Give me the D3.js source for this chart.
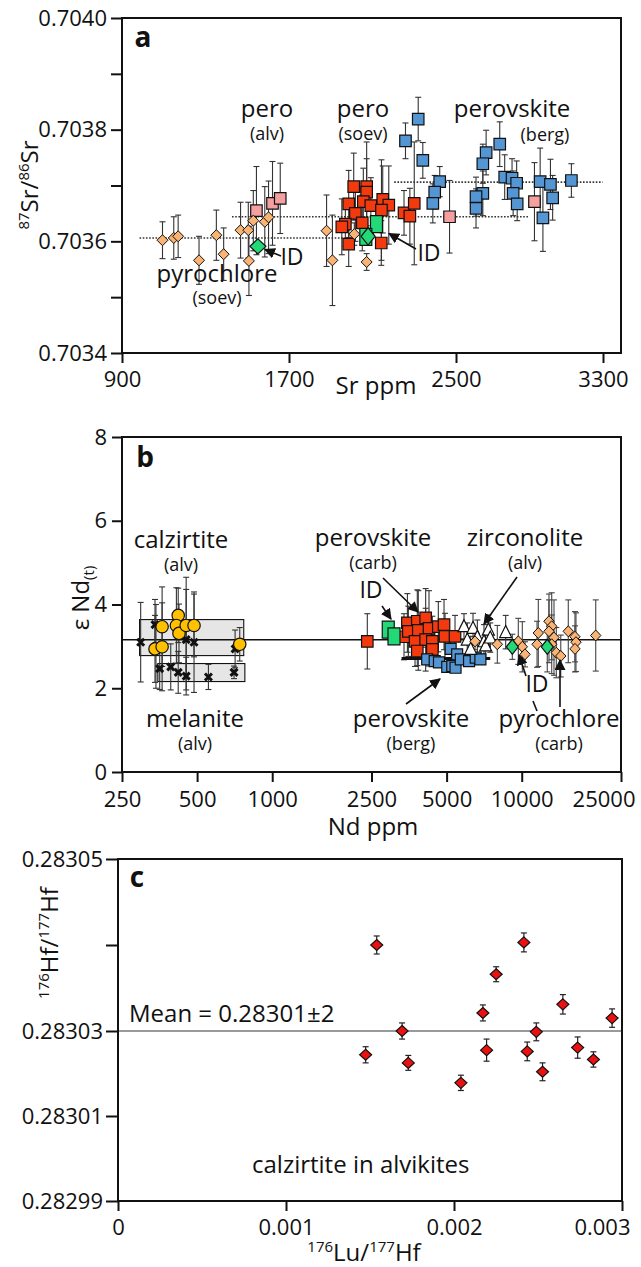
<!DOCTYPE html>
<html><head><meta charset="utf-8">
<script src="https://cdn.jsdelivr.net/npm/d3@7"></script>
<style>
body{margin:0;background:#fff}
svg{display:block}
text{font-family:'Open Sans',sans-serif;fill:#111}
</style></head>
<body><svg id="chart" width="641" height="1267"></svg>
<script>
// ---------------- Panel a data: [Sr ppm, 87Sr/86Sr, 2σ] ----------------
const aTicksX = [900, 1700, 2500, 3300];
const aTicksY = [0.7034, 0.7035, 0.7036, 0.7037, 0.7038, 0.7039, 0.7040];
const aLabelsY = ["0.7034", "", "0.7036", "", "0.7038", "", "0.7040"];
const pyroSoev = [
  [1094,0.703602,0.000033],[1148,0.703606,0.000038],[1169,0.703609,0.000038],
  [1269,0.703566,0.000043],[1352,0.703611,0.000045],[1387,0.703577,0.000047],
  [1468,0.703620,0.000050],[1505,0.703620,0.000050],[1508,0.703565,0.000062],
  [1529,0.703637,0.000054],[1584,0.703635,0.000063],[1602,0.703643,0.000065],
  [1880,0.703619,0.000064],[1908,0.703566,0.000081],[2013,0.703613,0.000020],
  [2072,0.703563,0.000015]
];
const peroAlv = [
  [1544,0.703655,0.000079],[1621,0.703668,0.000075],[1658,0.703677,0.000063],
  [2469,0.703644,0.000065],[2927,0.703671,0.000070]
];
const peroSoev = [
  [2010,0.703698,0.00006],[2072,0.703698,0.00008],[2072,0.703688,0.00006],
  [1986,0.703667,0.00006],[2056,0.703671,0.00006],[2092,0.703664,0.00005],
  [2149,0.703675,0.00006],[2178,0.703665,0.00007],[2018,0.703650,0.00005],
  [1970,0.703631,0.00004],[1953,0.703626,0.00005],[2051,0.703633,0.00005],
  [1986,0.703595,0.00004],[2142,0.703597,0.00004],[2143,0.703656,0.00009],
  [2251,0.703651,0.00004],[2279,0.703645,0.00005],[2300,0.703668,0.00011]
];
const peroBerg = [
  [2258,0.703780,0.000032],[2319,0.703819,0.000039],[2341,0.703745,0.000032],
  [2422,0.703707,0.000027],[2398,0.703688,0.000030],[2389,0.703668,0.000035],
  [2664,0.703759,0.000040],[2646,0.703739,0.000035],[2738,0.703774,0.000040],
  [2646,0.703686,0.000040],[2609,0.703680,0.000035],[2609,0.703659,0.000035],
  [2765,0.703715,0.000040],[2805,0.703713,0.000035],[2830,0.703704,0.000040],
  [2811,0.703686,0.000040],[2833,0.703667,0.000030],[2958,0.703707,0.000060],
  [3014,0.703702,0.000045],[3026,0.703678,0.000040],[2973,0.703642,0.000060],
  [3128,0.703709,0.000030]
];
const idSquaresA = [[2119,0.703631],[2068,0.703608]];
const idDiamondsA = [[1551,0.703591],[2079,0.703609]];
const meanLinesA = [[984,1970,0.703606],[1427,2898,0.703644],[2204,3298,0.703706]];

// ---------------- Panel b data: [Nd ppm, εNd(t), 2σ] ----------------
const bTicksX = [250, 500, 1000, 2500, 5000, 10000, 25000];
const bTicksY = [0, 2, 4, 6, 8];
const bMean = 3.16;
const calzirtite = [
  [339,2.94,0.8],[362,2.99,1.05],[362,3.47,0.95],[420,3.74,0.65],[413,3.50,0.9],
  [423,3.31,0.7],[452,3.50,1.15],[486,3.50,0.75],[741,3.05,0.4]
];
const melanite = [
  [297,3.10,0.95],[339,3.52,0.6],[342,3.00,1.0],[354,2.47,0.5],[392,2.51,0.55],
  [420,2.38,0.5],[452,2.29,0.45],[452,3.16,1.2],[486,3.10,1.2],[555,2.27,0.3],
  [703,2.38,0.15],[710,2.94,0.45]
];
const calzBox = [294, 769, 2.78, 3.64];
const melBox = [348, 777, 2.16, 2.59];
const peroCarb = [
  [2405,3.12,0.66],[3375,3.23,0.55],[3482,3.56,0.7],[3815,3.60,0.75],[4121,3.68,0.7],
  [3513,3.36,0.6],[3850,3.38,0.95],[4250,3.43,0.9],[4632,3.47,0.6],[4882,3.52,0.6],
  [3736,3.12,0.6],[4121,3.16,0.75],[4383,3.12,0.6],[4927,3.24,0.55],[5404,3.24,0.5],
  [3815,2.89,0.35],[4383,2.93,0.35]
];
const peroCarbID = [[2918,3.40],[3077,3.24]];
const peroBergB = [
  [4180,2.69,0.15],[4480,2.65,0.15],[4660,2.62,0.15],[5030,2.51,0.15],[5270,2.53,0.15],
  [5190,2.94,0.15],[5430,2.49,0.15],[5510,2.81,0.15],[5700,2.69,0.15],[6150,2.65,0.15],
  [6540,2.73,0.15],[6830,2.69,0.15]
];
const bergLine = [3300, 7480, 2.71];
const zirconolite = [
  [5870,3.48,0.3],[6380,3.44,0.35],[7350,3.40,0.35],[8625,3.34,0.4],[6050,3.16,0.4],
  [6640,3.23,0.4],[7060,3.12,0.4],[6245,2.94,0.3],[7170,3.02,0.3],[7480,3.21,0.35]
];
const pyroCarb = [
  [6500,3.12,0.2],[7985,3.05,0.45],[9690,3.12,0.55],[10055,2.99,0.6],[10310,2.81,0.3],
  [11655,3.32,0.8],[11520,3.05,0.55],[12860,3.60,0.65],[13190,3.48,0.8],[12860,3.36,0.75],
  [13470,3.21,0.9],[13190,3.05,0.7],[13760,2.85,0.6],[14340,2.77,0.5],[15370,3.36,0.75],
  [16350,3.23,0.6],[16500,3.10,0.7],[16350,2.94,0.55],[19800,3.26,0.85]
];
const pyroCarbID = [[9170,2.99,0.3],[12660,2.99,0.6]];

// ---------------- Panel c data ----------------
const cTicksX = [0, 0.001, 0.002, 0.003];
const cLabelsX = ["0", "0.001", "0.002", "0.003"];
const cTicksY = [0.28299, 0.28301, 0.28303, 0.28304, 0.28305];
const cLabelsY = ["0.28299", "0.28301", "0.28303", "", "0.28305"];
const luHf = [0.001474,0.001540,0.001691,0.001728,0.002041,0.002172,0.002194,0.002251,
              0.002416,0.002436,0.002490,0.002527,0.002648,0.002736,0.002830,0.002941];
const hfHf = [0.2830244,0.2830400,0.2830300,0.2830225,0.2830178,0.2830321,0.2830255,0.2830366,
              0.2830403,0.2830252,0.2830298,0.2830204,0.2830331,0.2830261,0.2830233,0.2830315];
const hfErr = [1.9e-6,1.05e-6,1.9e-6,1.75e-6,1.8e-6,0.93e-6,2.6e-6,0.87e-6,
               1.1e-6,2.2e-6,2.1e-6,2.1e-6,1.13e-6,2.5e-6,1.8e-6,1.07e-6];
const cMean = 0.28303;

// ---------------- colours ----------------
const C = {orange:"#F9B373", red:"#F23A0E", blue:"#5495D3", pink:"#F5A0A0",
           green:"#22D877", yellow:"#FFC000", redC:"#EC1111", box:"#E6E6E6"};

const svg = d3.select("#chart");

// ---------- helpers ----------
const sq = s => `M${-s/2},${-s/2}h${s}v${s}h${-s}Z`;
const rc = (w,h) => `M${-w/2},${-h/2}h${w}v${h}h${-w}Z`;
const dia = (w,h) => `M0,${-h}L${w},0L0,${h}L${-w},0Z`;
const tri = s => `M0,${-s*0.55}L${s/2},${s*0.45}L${-s/2},${s*0.45}Z`;
const cross = s => `M${-s/2},${-s/2}L${s/2},${s/2}M${s/2},${-s/2}L${-s/2},${s/2}`;

function errBars(g, data, x, y, col, cap=6, w=1.1) {
  const gg = g.append("g").attr("stroke", col).attr("stroke-width", w).attr("fill","none");
  data.forEach(d => {
    const px = x(d[0]), py = y(d[1]);
    const dy = Math.abs(y(d[1]-d[2]) - py);
    gg.append("line").attr("x1",px).attr("x2",px).attr("y1",py-dy).attr("y2",py+dy);
    gg.append("line").attr("x1",px-cap/2).attr("x2",px+cap/2).attr("y1",py-dy).attr("y2",py-dy);
    gg.append("line").attr("x1",px-cap/2).attr("x2",px+cap/2).attr("y1",py+dy).attr("y2",py+dy);
  });
}
function marks(g, data, x, y, path, fill, sw=1.2) {
  g.append("g").selectAll("path").data(data).join("path")
    .attr("transform", d => `translate(${x(d[0])},${y(d[1])})`)
    .attr("d", path).attr("fill", fill).attr("stroke","#111").attr("stroke-width", sw);
}
function label(g, x, y, txt, size, anchor="middle", weight="normal") {
  return g.append("text").attr("x",x).attr("y",y).attr("text-anchor",anchor)
    .attr("font-size",size).attr("font-weight",weight).text(txt);
}
function arrow(g, x1,y1,x2,y2, head=true) {
  g.append("line").attr("x1",x1).attr("y1",y1).attr("x2",x2).attr("y2",y2)
    .attr("stroke","#111").attr("stroke-width",1.6)
    .attr("marker-end", head ? "url(#ah)" : null);
}
svg.append("defs").append("marker").attr("id","ah").attr("viewBox","0 0 10 10")
  .attr("refX",9).attr("refY",5)
  .attr("orient","auto-start-reverse").attr("markerUnits","userSpaceOnUse")
  .attr("markerWidth",11).attr("markerHeight",11)
  .append("path").attr("d","M0,0L10,5L0,10Z").attr("fill","#111");

function frame(g, x0,y0,x1,y1) {
  g.append("rect").attr("x",x0).attr("y",y0).attr("width",x1-x0).attr("height",y1-y0)
    .attr("fill","none").attr("stroke","#111").attr("stroke-width",2);
}
function styleAxis(ax) {
  ax.select(".domain").remove();
  ax.selectAll(".tick line").attr("stroke","#111").attr("stroke-width",2);
  ax.selectAll(".tick text").attr("font-size",22).attr("fill","#111")
    .attr("font-family","'Open Sans',sans-serif");
}
// keep the last bottom label inside the page, as the reference does
function endLabel(ax, dx) {
  ax.selectAll(".tick").filter((d,i,n)=>i===n.length-1).select("text")
    .attr("text-anchor","end").attr("x", dx);
}
function supText(g, x, y, parts, rotate) {
  const t = g.append("text").attr("text-anchor","middle").attr("font-size",24)
    .attr("transform", rotate ? `translate(${x},${y}) rotate(-90)` : `translate(${x},${y})`);
  parts.forEach(p => {
    const ts = t.append("tspan").text(p[0]);
    if (p[1] === "sup") ts.attr("font-size",15).attr("dy",-9);
    else if (p[1] === "sub") ts.attr("font-size",15).attr("dy",5);
    else if (p[1] === "back") ts.attr("dy",9);
  });
  return t;
}

// =============== Panel a ===============
{
  const L=122, R=621, T=18, B=353;
  const x = d3.scaleLinear().domain([900,2500,3300]).range([L,456,603]);
  const y = d3.scaleLinear().domain([0.7034,0.7040]).range([B,T]);
  const g = svg.append("g");
  meanLinesA.forEach(m => g.append("line").attr("x1",x(m[0])).attr("x2",x(m[1]))
    .attr("y1",y(m[2])).attr("y2",y(m[2])).attr("stroke","#333").attr("stroke-width",1.6)
    .attr("stroke-dasharray","1.6,1.6"));
  errBars(g, pyroSoev, x, y, "#333");
  errBars(g, peroAlv, x, y, "#333");
  errBars(g, peroSoev, x, y, "#333");
  errBars(g, peroBerg, x, y, "#333");
  marks(g, peroSoev, x, y, sq(11.5), C.red);
  marks(g, peroBerg, x, y, sq(11.5), C.blue);
  marks(g, peroAlv, x, y, sq(11.5), C.pink);
  marks(g, pyroSoev, x, y, dia(5.5,5.5), C.orange, 1);
  marks(g, idSquaresA, x, y, rc(12,17), C.green);
  marks(g, [idDiamondsA[0]], x, y, dia(8,7.5), C.green);
  marks(g, [idDiamondsA[1]], x, y, dia(7,8.8), C.green);
  frame(g, L,T,R,B);
  const ay = g.append("g").attr("transform",`translate(${L},0)`)
    .call(d3.axisLeft(y).tickValues(aTicksY).tickSize(11).tickPadding(4)
      .tickFormat((d,i)=>aLabelsY[i]));
  styleAxis(ay);
  const ax = g.append("g").attr("transform",`translate(0,${B})`)
    .call(d3.axisBottom(x).tickValues(aTicksX).tickSize(10).tickPadding(8).tickFormat(d3.format("d")));
  styleAxis(ax);
  label(g, 143, 47, "a", 28, "middle", "bold");
  label(g, 267, 117, "pero", 24); label(g, 267, 140, "(alv)", 18);
  label(g, 363, 117, "pero", 24); label(g, 363, 140, "(soev)", 18);
  label(g, 512, 117, "perovskite", 24); label(g, 545, 141, "(berg)", 18);
  label(g, 217, 282, "pyrochlore", 24); label(g, 217, 304, "(soev)", 18);
  label(g, 292, 265, "ID", 23); label(g, 429, 261, "ID", 23);
  arrow(g, 281, 256, 265, 249.5);
  arrow(g, 416, 249, 389, 233.5);
  label(g, 376, 394, "Sr ppm", 24);
  supText(g, 38, 185, [["87","sup"],["Sr","back"],["/",""],["86","sup"],["Sr","back"]], true);
}

// =============== Panel b ===============
{
  const L=122, R=621, T=437, B=772;
  const x = d3.scaleLog().domain([250,25000]).range([L,R]);
  const y = d3.scaleLinear().domain([0,8]).range([B,T]);
  const g = svg.append("g");
  [calzBox, melBox].forEach(b => g.append("rect").attr("x",x(b[0])).attr("y",y(b[3]))
    .attr("width",x(b[1])-x(b[0])).attr("height",y(b[2])-y(b[3]))
    .attr("fill",C.box).attr("stroke","#111").attr("stroke-width",1.1));
  g.append("line").attr("x1",L).attr("x2",R).attr("y1",y(bMean)).attr("y2",y(bMean))
    .attr("stroke","#111").attr("stroke-width",1.6);
  errBars(g, melanite, x, y, "#333");
  errBars(g, calzirtite, x, y, "#333");
  errBars(g, peroCarb, x, y, "#333");
  errBars(g, zirconolite, x, y, "#333");
  errBars(g, pyroCarb, x, y, "#444");
  errBars(g, pyroCarbID, x, y, "#444");
  g.append("g").selectAll("path").data(melanite).join("path")
    .attr("transform", d => `translate(${x(d[0])},${y(d[1])})`)
    .attr("d", cross(7)).attr("stroke","#111").attr("stroke-width",3).attr("fill","none");
  g.append("g").selectAll("circle").data(calzirtite).join("circle")
    .attr("cx", d=>x(d[0])).attr("cy", d=>y(d[1])).attr("r",6.2)
    .attr("fill",C.yellow).attr("stroke","#111").attr("stroke-width",1.2);
  marks(g, peroCarb, x, y, sq(11.5), C.red);
  g.append("line").attr("x1",x(bergLine[0])).attr("x2",x(bergLine[1]))
    .attr("y1",y(bergLine[2])).attr("y2",y(bergLine[2])).attr("stroke","#111").attr("stroke-width",3);
  marks(g, peroBergB, x, y, sq(11), C.blue);
  marks(g, peroCarbID, x, y, rc(12,17), C.green);
  marks(g, zirconolite, x, y, tri(12), "#fff");
  marks(g, pyroCarb, x, y, dia(5.2,5.5), C.orange, 1);
  marks(g, pyroCarbID, x, y, dia(6,7.5), C.green);
  frame(g, L,T,R,B);
  const ay = g.append("g").attr("transform",`translate(${L},0)`)
    .call(d3.axisLeft(y).tickValues(bTicksY).tickSize(10).tickPadding(5).tickFormat(d3.format("d")));
  styleAxis(ay);
  const ax = g.append("g").attr("transform",`translate(0,${B})`)
    .call(d3.axisBottom(x).tickValues(bTicksX).tickSize(10).tickPadding(9).tickFormat(d3.format("d")));
  styleAxis(ax);
  endLabel(ax, 14);
  label(g, 145, 467, "b", 28, "middle", "bold");
  label(g, 181, 548, "calzirtite", 24); label(g, 181, 571, "(alv)", 18);
  label(g, 195, 727, "melanite", 24); label(g, 195, 750, "(alv)", 18);
  label(g, 373, 546, "perovskite", 24); label(g, 373, 569, "(carb)", 18);
  label(g, 525, 546, "zirconolite", 24); label(g, 525, 569, "(alv)", 18);
  label(g, 371, 598, "ID", 23);
  label(g, 411, 727, "perovskite", 24); label(g, 411, 750, "(berg)", 18);
  label(g, 537, 692, "ID", 23);
  label(g, 559, 727, "pyrochlore", 24); label(g, 559, 750, "(carb)", 18);
  arrow(g, 382, 606, 391, 619);
  arrow(g, 383, 578, 418, 612);
  arrow(g, 517, 577, 484, 624);
  arrow(g, 406, 704, 440, 679);
  arrow(g, 526, 676, 519, 655);
  arrow(g, 533, 701, 537, 711, false);
  arrow(g, 560, 707, 560, 660);
  label(g, 373, 835, "Nd ppm", 24);
  supText(g, 89, 598, [["ε Nd",""],["(t)","sub"]], true);
}

// =============== Panel c ===============
{
  const L=118, R=622, T=859, B=1201;
  const x = d3.scaleLinear().domain([0,0.003]).range([L,R]);
  const y = d3.scaleLinear().domain([0.28299,0.28303,0.28305]).range([B,1031,T]);
  const g = svg.append("g");
  const pts = luHf.map((v,i)=>[v, hfHf[i], hfErr[i]]);
  g.append("line").attr("x1",L).attr("x2",R).attr("y1",y(cMean)).attr("y2",y(cMean))
    .attr("stroke","#777").attr("stroke-width",1.6);
  errBars(g, pts, x, y, "#222", 6, 1.2);
  marks(g, pts, x, y, dia(6,5.5), C.redC, 1.2);
  frame(g, L,T,R,B);
  const ay = g.append("g").attr("transform",`translate(${L},0)`)
    .call(d3.axisLeft(y).tickValues(cTicksY).tickSize(12).tickPadding(3).tickFormat((d,i)=>cLabelsY[i]));
  styleAxis(ay);
  const ax = g.append("g").attr("transform",`translate(0,${B})`)
    .call(d3.axisBottom(x).tickValues(cTicksX).tickSize(10).tickPadding(8).tickFormat((d,i)=>cLabelsX[i]));
  styleAxis(ax);
  endLabel(ax, 8);
  label(g, 137, 887, "c", 28, "middle", "bold");
  label(g, 129, 1022, "Mean = 0.28301±2", 24, "start");
  label(g, 252, 1173, "calzirtite in alvikites", 24, "start");
  supText(g, 364, 1261, [["176","sup"],["Lu","back"],["/",""],["177","sup"],["Hf","back"]], false);
  supText(g, 58, 943, [["176","sup"],["Hf","back"],["/",""],["177","sup"],["Hf","back"]], true);
}
</script></body></html>
